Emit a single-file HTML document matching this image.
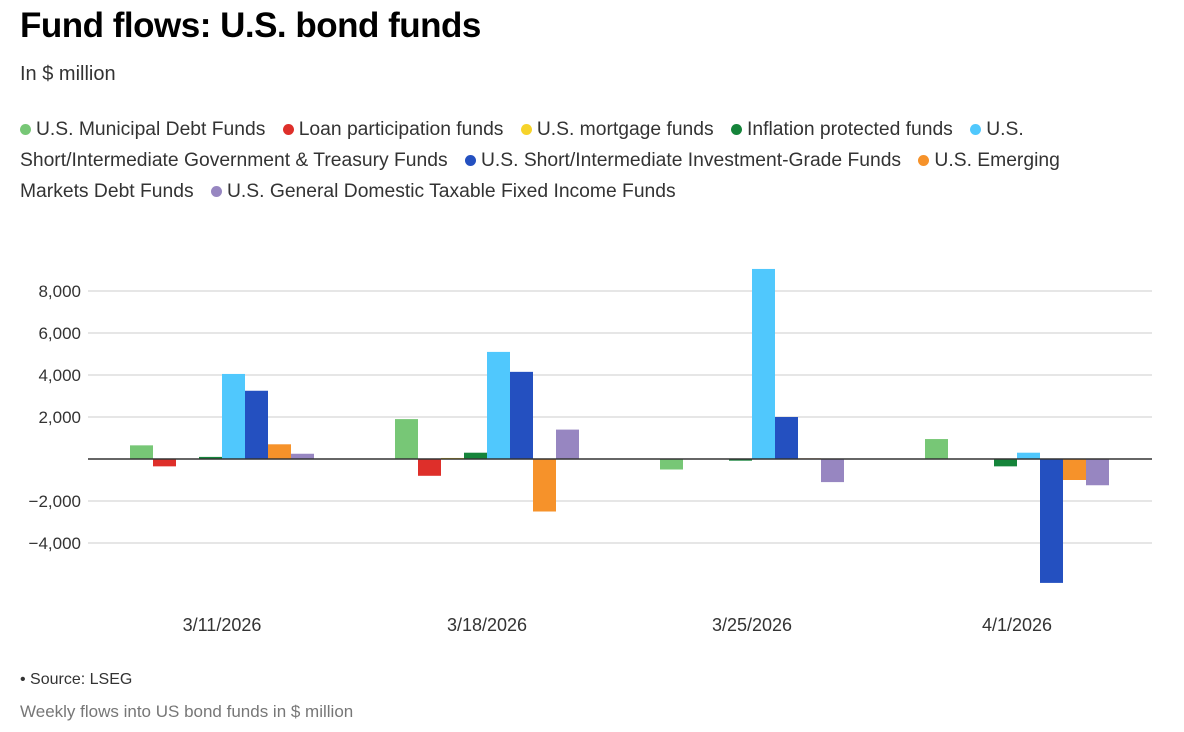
<!DOCTYPE html>
<html><head><meta charset="utf-8"><style>
body{margin:0;background:#fff;font-family:"Liberation Sans",sans-serif;color:#222;width:1184px;height:732px;overflow:hidden;position:relative}
.t{position:absolute;left:20px;top:6px;font-size:35px;font-weight:bold;letter-spacing:-0.5px;color:#000}
.s{position:absolute;left:20px;top:63px;font-size:20px;color:#333}
.lg{position:absolute;left:20px;top:114px;width:1085px;font-size:19.3px;line-height:31px;color:#333}
.lg span.d{display:inline-block;width:11px;height:11px;border-radius:50%;margin-right:5px;vertical-align:0px}
.lg span.e{margin-right:12px}
.src{position:absolute;left:20px;top:671px;font-size:16px;color:#333}
.note{position:absolute;left:20px;top:702px;font-size:17px;color:#777}
svg{position:absolute;left:0;top:0}
</style></head><body>
<div class="t">Fund flows: U.S. bond funds</div>
<div class="s">In $ million</div>
<div class="lg" id="legend"></div>
<svg id="c" width="1184" height="732"></svg>
<div class="src">• Source: LSEG</div>
<div class="note">Weekly flows into US bond funds in $ million</div>
<script>
const categories=["3/11/2026","3/18/2026","3/25/2026","4/1/2026"];
const seriesNames=["U.S. Municipal Debt Funds","Loan participation funds","U.S. mortgage funds","Inflation protected funds","U.S. Short/Intermediate Government & Treasury Funds","U.S. Short/Intermediate Investment-Grade Funds","U.S. Emerging Markets Debt Funds","U.S. General Domestic Taxable Fixed Income Funds"];
const colors=["#77c776","#de2f2a","#f6d32a","#15843a","#50c8fd","#2450c0","#f6922a","#9786c1"];
const muni=[650,1900,-500,950];
const loan=[-350,-800,0,0];
const mortgage=[0,50,0,0];
const inflation=[100,300,-80,-350];
const govt=[4050,5100,9050,300];
const ig=[3250,4150,2000,-5900];
const em=[700,-2500,30,-1000];
const general=[250,1400,-1100,-1250];
const series=[muni,loan,mortgage,inflation,govt,ig,em,general];
const ticks=[8000,6000,4000,2000,-2000,-4000];
const tickLabels=["8,000","6,000","4,000","2,000","−2,000","−4,000"];
const NS="http://www.w3.org/2000/svg";
const svg=document.getElementById('c');
const y=v=>459-v*0.021;
const gx=i=>222+i*265;
const bw=23;
function el(t,a){const e=document.createElementNS(NS,t);for(const k in a)e.setAttribute(k,a[k]);svg.appendChild(e);return e;}
ticks.forEach((t,i)=>{
 const l=el('line',{x1:88,x2:1152,y1:y(t),y2:y(t),stroke:'#ccc','stroke-width':1});
 
 
 const tx=el('text',{x:81,y:y(t)+6,'text-anchor':'end','font-size':17,fill:'#333','font-family':'Liberation Sans, sans-serif'});
 tx.textContent=tickLabels[i];
 
 
});
series.forEach((s,si)=>{s.forEach((v,ci)=>{
 const x=gx(ci)-4*bw+si*bw;
 const r=el('rect',{x:x,y:Math.min(y(v),y(0)),width:bw,height:Math.max(Math.abs(y(v)-y(0)),v===0?0:1),fill:colors[si]});
 
 
});});
const z=el('line',{x1:88,x2:1152,y1:y(0),y2:y(0),stroke:'#333','stroke-width':1.5});


categories.forEach((c,i)=>{
 const tx=el('text',{x:gx(i),y:631,'text-anchor':'middle','font-size':18,fill:'#333','font-family':'Liberation Sans, sans-serif'});
 tx.textContent=c;
 
 
});
const lg=document.getElementById('legend');
seriesNames.forEach((n,i)=>{
 const s=document.createElement('span');s.className='e';
 
 
 s.innerHTML='<span class="d" style="background:'+colors[i]+'"></span>'+n.replace(/&/g,'&amp;');
 lg.appendChild(s);lg.appendChild(document.createTextNode(' '));
});
</script>
</body></html>
